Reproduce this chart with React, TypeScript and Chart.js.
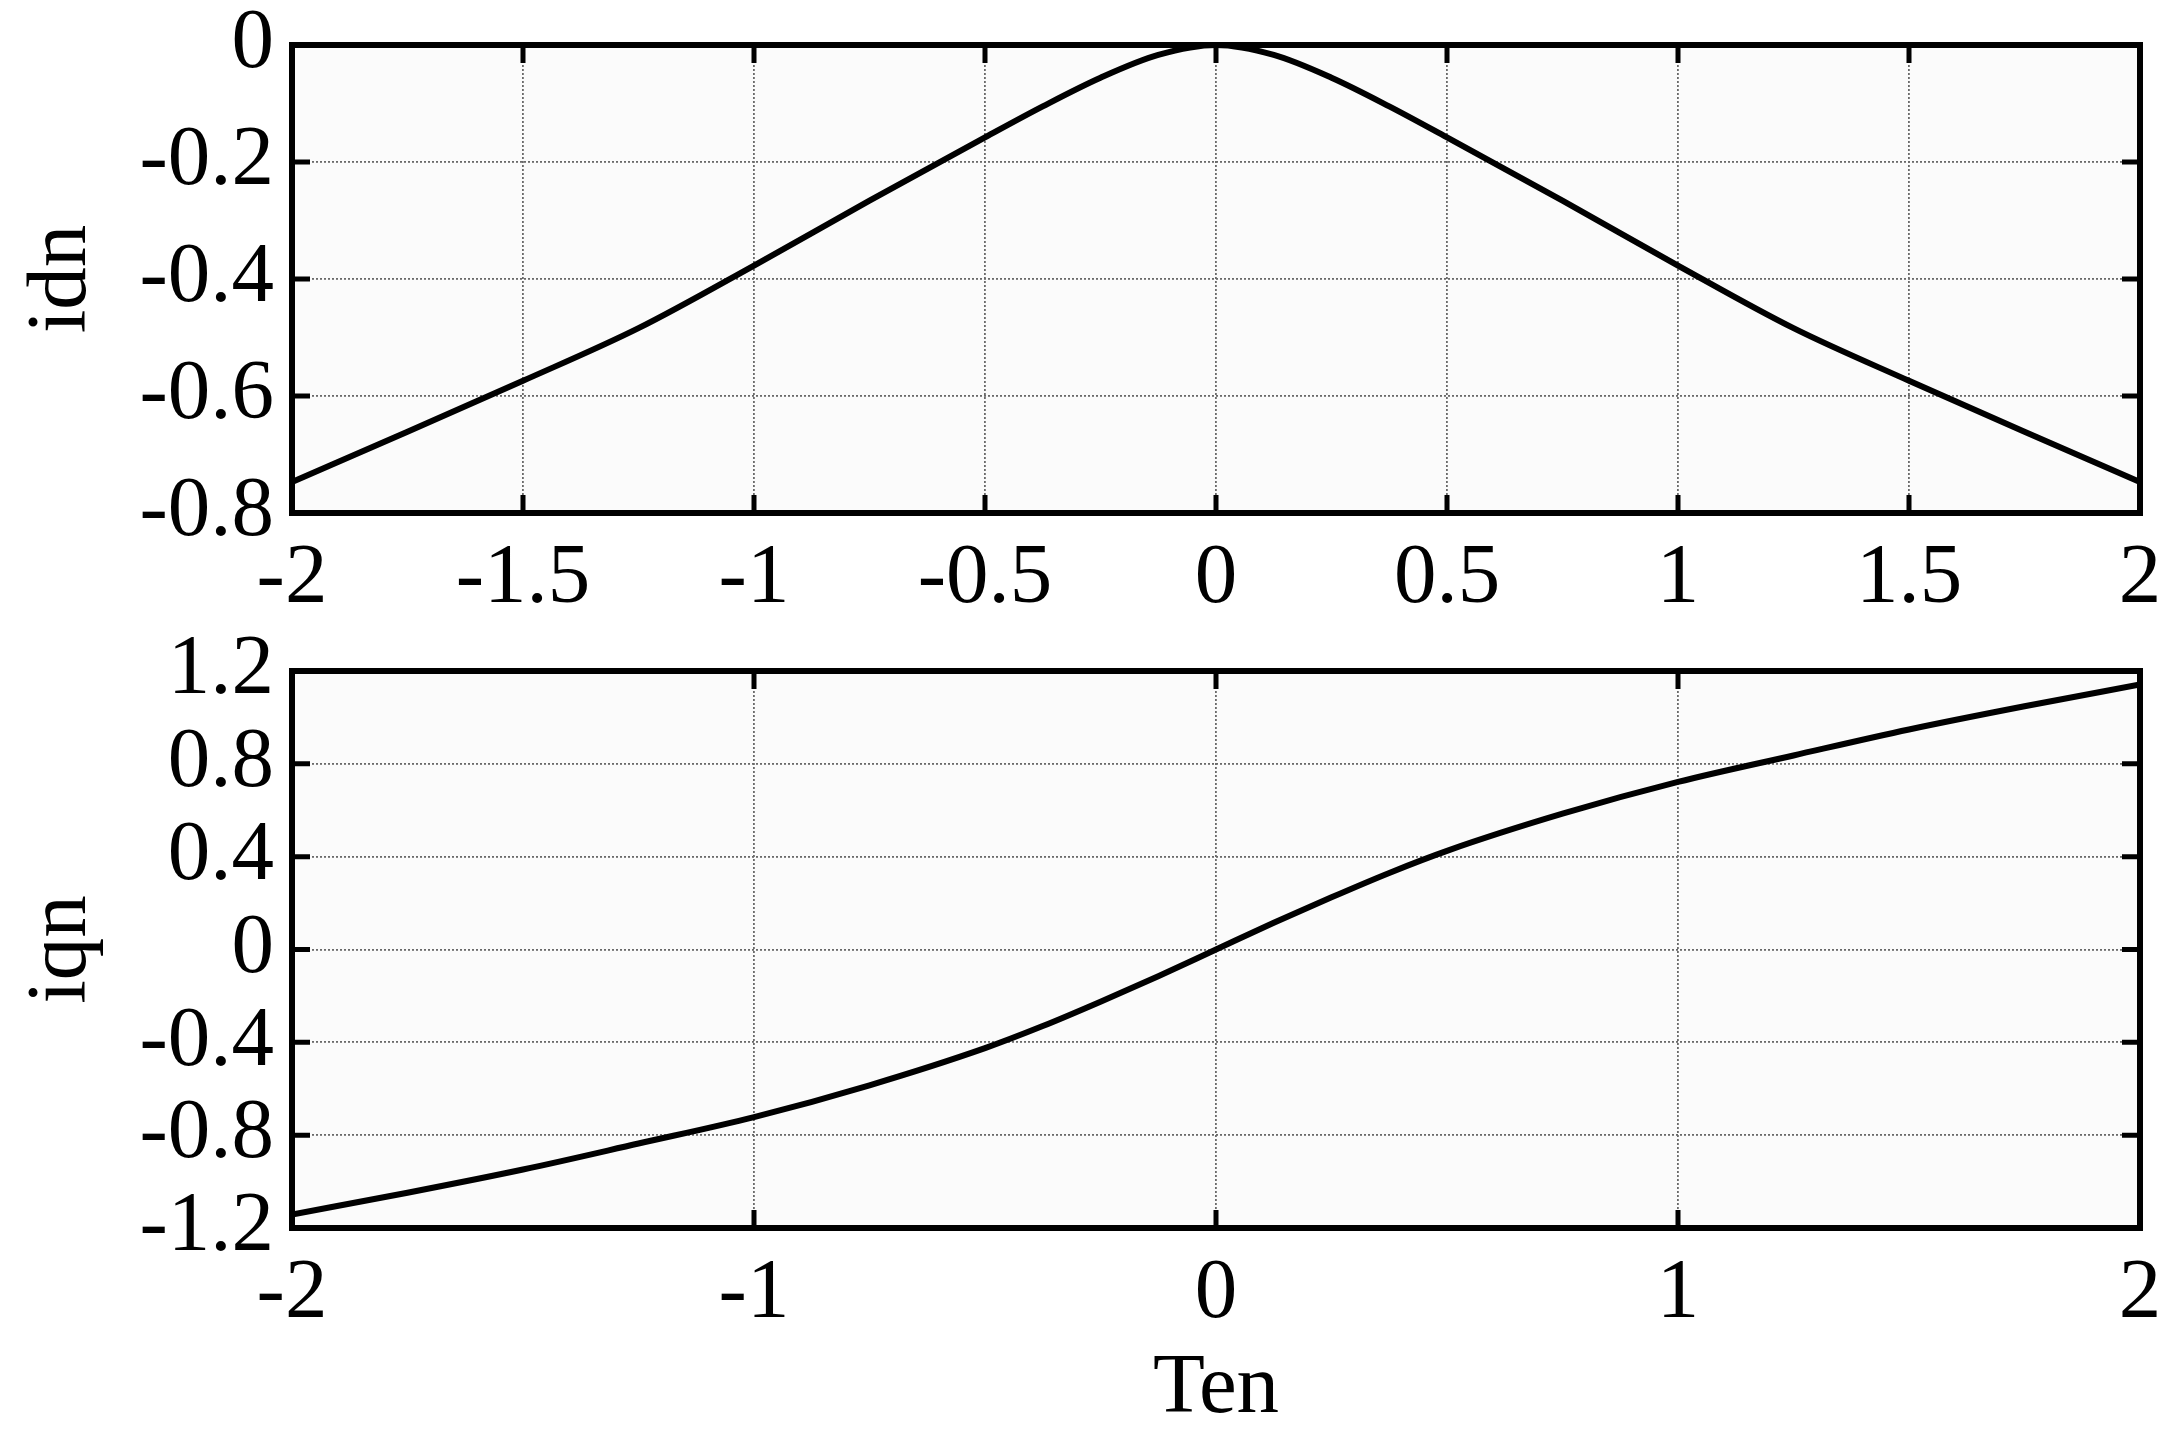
import React, { useEffect, useRef } from "react";
import { Chart, registerables } from "chart.js";

Chart.register(...registerables);

// ---- data ----
const tenValues = [-2, -1.75, -1.5, -1.25, -1, -0.75, -0.5, -0.375, -0.25, -0.125, 0, 0.125, 0.25, 0.375, 0.5, 0.75, 1, 1.25, 1.5, 1.75, 2];
const idnValues = [-0.747, -0.661, -0.574, -0.484, -0.377, -0.266, -0.158, -0.105, -0.056, -0.017, 0, -0.017, -0.056, -0.105, -0.158, -0.266, -0.377, -0.484, -0.574, -0.661, -0.747];
const iqnValues = [-1.142, -1.048, -0.948, -0.836, -0.722, -0.585, -0.425, -0.33, -0.225, -0.115, 0, 0.115, 0.225, 0.33, 0.425, 0.585, 0.722, 0.836, 0.948, 1.048, 1.142];

const topXTicks = [-2, -1.5, -1, -0.5, 0, 0.5, 1, 1.5, 2];
const topYTicks = [-0.8, -0.6, -0.4, -0.2, 0];
const bottomXTicks = [-2, -1, 0, 1, 2];
const bottomYTicks = [-1.2, -0.8, -0.4, 0, 0.4, 0.8, 1.2];

const xTitle = "Ten";
const topYTitle = "idn";
const bottomYTitle = "iqn";

// ---- styling ----
const FONT = "'Liberation Serif', 'Times New Roman', serif";
const FONT_SIZE = 85;
const PAGE_W = 2183;
const PLOT_LEFT = 292;
const PLOT_RIGHT = 2140;
const TICK_LEN = 18;

const fmt = (v: number) => String(Math.round(v * 10) / 10);

const framePlugin = {
  id: "frameTicks",
  beforeDraw(chart: any) {
    const { ctx, chartArea } = chart;
    const { left, top, right, bottom } = chartArea;
    ctx.save();
    ctx.fillStyle = "#fbfbfb";
    ctx.fillRect(left, top, right - left, bottom - top);
    ctx.restore();
  },
  afterDraw(chart: any) {
    const { ctx, chartArea } = chart;
    const { left, top, right, bottom } = chartArea;
    const xs = chart.scales.x;
    const ys = chart.scales.y;
    ctx.save();
    ctx.strokeStyle = "#000";
    ctx.lineWidth = 5;
    ctx.lineCap = "butt";
    ctx.beginPath();
    xs.ticks.forEach((t: any) => {
      const px = xs.getPixelForValue(t.value);
      ctx.moveTo(px, top);
      ctx.lineTo(px, top + TICK_LEN);
      ctx.moveTo(px, bottom);
      ctx.lineTo(px, bottom - TICK_LEN);
    });
    ys.ticks.forEach((t: any) => {
      const py = ys.getPixelForValue(t.value);
      ctx.moveTo(left, py);
      ctx.lineTo(left + TICK_LEN, py);
      ctx.moveTo(right, py);
      ctx.lineTo(right - TICK_LEN, py);
    });
    ctx.stroke();
    ctx.lineWidth = 6;
    ctx.lineJoin = "miter";
    ctx.strokeRect(left, top, right - left, bottom - top);
    ctx.restore();
  },
};

type PanelProps = {
  top: number;
  height: number;
  plotTop: number;
  plotBottom: number;
  yValues: number[];
  xTicks: number[];
  yTicks: number[];
  yTitle: string;
  showXTitle: boolean;
};

function Panel(props: PanelProps) {
  const ref = useRef<HTMLCanvasElement | null>(null);
  useEffect(() => {
    if (!ref.current) return;
    const { height, plotTop, plotBottom, yValues, xTicks, yTicks, yTitle, showXTitle } = props;
    const xMin = xTicks[0];
    const xMax = xTicks[xTicks.length - 1];
    const yMin = yTicks[0];
    const yMax = yTicks[yTicks.length - 1];
    const chart = new Chart(ref.current, {
      type: "line",
      data: {
        datasets: [
          {
            data: tenValues.map((x, i) => ({ x, y: yValues[i] })),
            borderColor: "#000",
            borderWidth: 6,
            pointRadius: 0,
            cubicInterpolationMode: "monotone",
            fill: false,
          },
        ],
      },
      options: {
        animation: false,
        responsive: false,
        events: [],
        layout: {
          autoPadding: false,
          padding: { top: plotTop, left: 0, right: PAGE_W - PLOT_RIGHT, bottom: 0 },
        },
        plugins: {
          legend: { display: false },
          tooltip: { enabled: false },
        },
        scales: {
          x: {
            type: "linear",
            min: xMin,
            max: xMax,
            afterBuildTicks: (scale: any) => {
              scale.ticks = xTicks.map((v) => ({ value: v }));
            },
            afterFit: (scale: any) => {
              scale.height = height - plotBottom;
              scale.paddingLeft = 0;
              scale.paddingRight = 0;
            },
            border: { display: false, dash: [2, 2] },
            grid: { color: "#6a6a6a", lineWidth: 1.8, drawTicks: false },
            ticks: {
              color: "#000",
              padding: 24,
              maxRotation: 0,
              autoSkip: false,
              font: { family: FONT, size: FONT_SIZE, lineHeight: 1 },
              callback: (v: any) => fmt(Number(v)),
            },
            title: {
              display: showXTitle,
              text: xTitle,
              color: "#000",
              font: { family: FONT, size: FONT_SIZE, lineHeight: 1 },
              padding: { top: 0, bottom: 11 },
            },
          },
          y: {
            type: "linear",
            min: yMin,
            max: yMax,
            afterBuildTicks: (scale: any) => {
              scale.ticks = yTicks.map((v) => ({ value: v }));
            },
            afterFit: (scale: any) => {
              scale.width = PLOT_LEFT;
              scale.paddingTop = 0;
              scale.paddingBottom = 0;
            },
            border: { display: false, dash: [2, 2] },
            grid: { color: "#6a6a6a", lineWidth: 1.8, drawTicks: false },
            ticks: {
              color: "#000",
              padding: 18,
              autoSkip: false,
              font: { family: FONT, size: FONT_SIZE, lineHeight: 1 },
              callback: (v: any) => fmt(Number(v)),
            },
            title: {
              display: true,
              text: yTitle,
              color: "#000",
              font: { family: FONT, size: FONT_SIZE, lineHeight: 1 },
              padding: { top: 20, bottom: 0 },
            },
          },
        },
      },
      plugins: [framePlugin],
    } as any);
    return () => chart.destroy();
  }, []);

  return (
    <canvas
      ref={ref}
      width={PAGE_W}
      height={props.height}
      style={{ position: "absolute", left: 0, top: props.top, width: PAGE_W, height: props.height }}
    />
  );
}

export default function App() {
  return (
    <div style={{ position: "absolute", left: 0, top: 0, width: PAGE_W, height: 1443, background: "#fff" }}>
      <Panel
        top={0}
        height={630}
        plotTop={45}
        plotBottom={513}
        yValues={idnValues}
        xTicks={topXTicks}
        yTicks={topYTicks}
        yTitle={topYTitle}
        showXTitle={false}
      />
      <Panel
        top={630}
        height={813}
        plotTop={41}
        plotBottom={598}
        yValues={iqnValues}
        xTicks={bottomXTicks}
        yTicks={bottomYTicks}
        yTitle={bottomYTitle}
        showXTitle={true}
      />
    </div>
  );
}
